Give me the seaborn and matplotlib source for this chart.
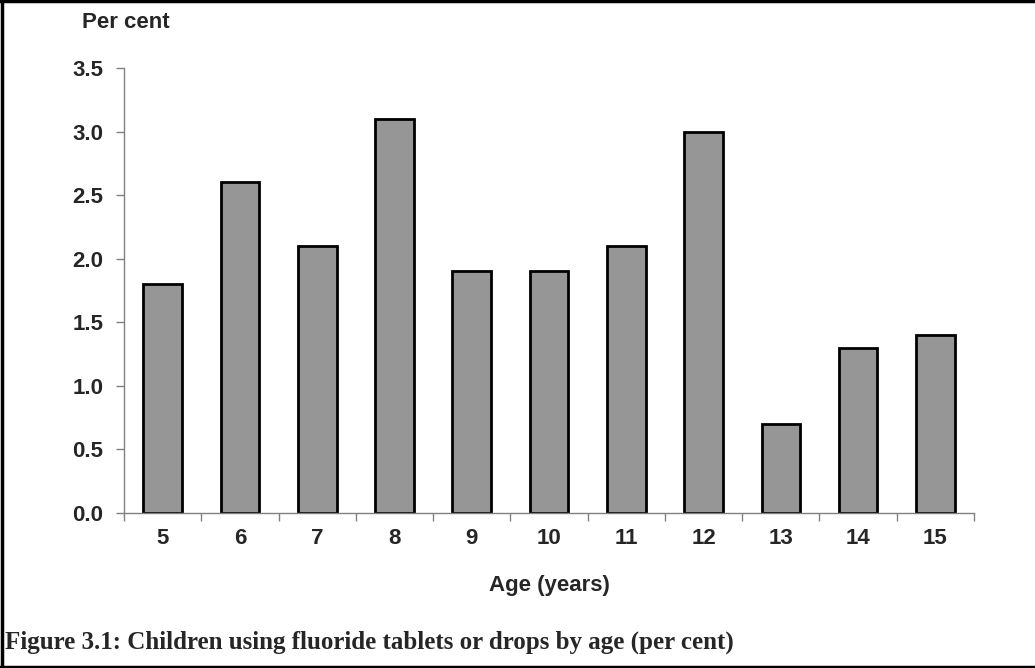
import numpy as np
import pandas as pd
import matplotlib
matplotlib.use("Agg")
import matplotlib.pyplot as plt
import seaborn as sns

ages = ["5", "6", "7", "8", "9", "10", "11", "12", "13", "14", "15"]
per_cent = [1.8, 2.6, 2.1, 3.1, 1.9, 1.9, 2.1, 3.0, 0.7, 1.3, 1.4]
y_ticks = [0.0, 0.5, 1.0, 1.5, 2.0, 2.5, 3.0, 3.5]

df = pd.DataFrame({"age": ages, "pct": per_cent})

sns.set_style("white")
plt.rcParams["font.family"] = ["Liberation Sans", "DejaVu Sans"]

fig = plt.figure(figsize=(10.35, 6.68), dpi=100)
ax = fig.add_axes([124 / 1035, 1 - 513 / 668, 850 / 1035, 445 / 668])

sns.barplot(data=df, x="age", y="pct", order=ages, color="#969696",
            saturation=1, width=0.5, edgecolor="black", linewidth=2, ax=ax)

ax.set_ylim(0, 3.5)
ax.set_xlim(-0.5, len(ages) - 0.5)
ax.set_yticks(y_ticks)
ax.set_yticklabels([f"{v:.1f}" for v in y_ticks], fontsize=16, fontweight="bold")
ax.set_xticks(range(len(ages)))
ax.set_xticklabels(ages, fontsize=16, fontweight="bold")
ax.tick_params(axis="x", length=0, pad=11)
ax.tick_params(axis="y", length=6, width=1, color="#808080", pad=9, direction="out", left=True)
# category boundary ticks like Excel
ax.set_xticks(np.arange(-0.5, len(ages)), minor=True)
ax.tick_params(axis="x", which="minor", length=6, width=1, color="#808080", direction="out", bottom=True)

for s in ["top", "right"]:
    ax.spines[s].set_visible(False)
for s in ["left", "bottom"]:
    ax.spines[s].set_color("#808080")
    ax.spines[s].set_linewidth(1)

ax.set_xlabel("")
ax.set_ylabel("")
fig.text(549 / 1035, 1 - 586 / 668, "Age (years)", ha="center", va="center",
         fontsize=16, fontweight="bold")
fig.text(82 / 1035, 1 - 23 / 668, "Per cent", ha="left", va="center",
         fontsize=16, fontweight="bold")
fig.text(5 / 1035, 1 - 642 / 668,
         "Figure 3.1: Children using fluoride tablets or drops by age (per cent)",
         ha="left", va="center", fontsize=18, fontweight="bold",
         family=["Liberation Serif", "DejaVu Serif"])

# frame round the figure (top, left, bottom)
fig.add_artist(plt.Line2D([0, 1], [0.998, 0.998], color="black", lw=2.5, transform=fig.transFigure))
fig.add_artist(plt.Line2D([0.0015, 0.0015], [0, 1], color="black", lw=2.5, transform=fig.transFigure))
fig.add_artist(plt.Line2D([0, 1], [0.002, 0.002], color="black", lw=2.5, transform=fig.transFigure))

fig.savefig("out.png", dpi=100)
